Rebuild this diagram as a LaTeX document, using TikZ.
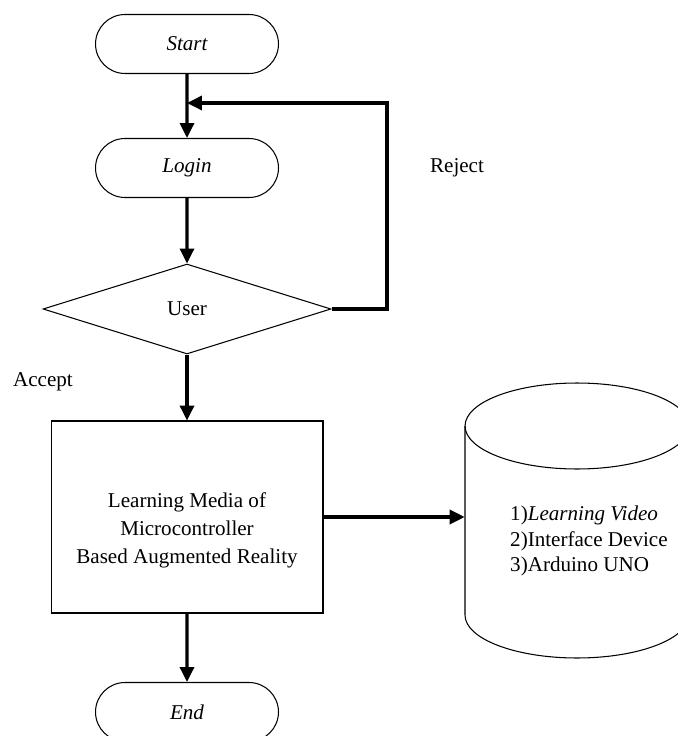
\documentclass[tikz,border=0pt]{standalone}
\usepackage{fontspec}
\setmainfont{Liberation Serif}
\usetikzlibrary{shapes.misc,shapes.geometric,arrows.meta}
\tikzset{
    txt/.style={font=\fontsize{12}{14.5}\selectfont},
    term/.style={txt, draw, line width=0.6pt, rounded rectangle, minimum width=3.66cm, minimum height=1.18cm, inner sep=0pt, font=\fontsize{12}{14.5}\selectfont\itshape},
    decision/.style={txt, draw, line width=0.6pt, diamond, minimum width=5.76cm, minimum height=1.8cm, inner sep=0pt},
    procbox/.style={draw, line width=0.6pt, rectangle, minimum width=5.44cm, minimum height=3.84cm},
    flow/.style={line width=1.8pt, -{Triangle[length=8.5pt,width=8pt]}},
}
\begin{document}
\begin{tikzpicture}[x=0.02cm, y=-0.02cm]

    \useasboundingbox (0,0) rectangle (678,736);

    %flow nodes
    \node[term] (start) at (187,44) {Start};
    \node[term] (login) at (187,168) {Login};
    \node[decision] (user) at (187,309) {User};
    \node[procbox] (media) at (187,517) {};
    \node[align=center, font=\fontsize{12}{16}\selectfont] (mediatext) at (187,530) {Learning Media of\\Microcontroller\\Based Augmented Reality};
    \node[term] (finish) at (187,712) {End};

    %database
    \node[minimum width=4.48cm, minimum height=5.5cm, inner sep=0pt] (db) at (577,520) {};
    \draw[line width=0.6pt] (577,426) ellipse [x radius=2.24cm, y radius=0.86cm];
    \draw[line width=0.6pt] (465,426) -- (465,615) arc [start angle=180, end angle=360, x radius=2.24cm, y radius=0.86cm] -- (689,426);
    \node[txt, anchor=west, align=left] (dbtext) at (504,541) {1)\textit{Learning Video}\\2)Interface Device\\3)Arduino UNO};

    %labels
    \node[txt] (reject) at (457,168) {Reject};
    \node[txt] (accept) at (43,382) {Accept};

    %arrows
    \coordinate (merge) at (187,103);
    \coordinate (corner) at (387,103);
    \draw[flow] (start) -- (login);
    \draw[flow] (login) -- (user);
    \draw[flow] (user.east) -| (corner) -- (merge);
    \draw[flow] (user) -- (media);
    \draw[flow] (media.east) -- (media.east -| db.west);
    \draw[flow] (media) -- (finish);

\end{tikzpicture}
\end{document}
